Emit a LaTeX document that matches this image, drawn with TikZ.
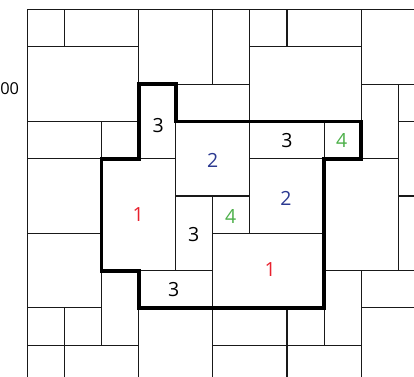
\documentclass[tikz,border=0pt]{standalone}
\usepackage{fontspec}
\setmainfont{Open Sans}
\definecolor{numred}{RGB}{232,33,46}
\definecolor{numblue}{RGB}{43,57,144}
\definecolor{numgreen}{RGB}{77,176,74}
\begin{document}
\begin{tikzpicture}[x=37.1pt,y=-37.3pt,
  cell/.style={draw=black!90,line width=1.1pt},
  region/.style={draw=black,line width=3.8pt,line join=miter},
  num/.style={font=\fontsize{19.5}{22}\selectfont,inner sep=0pt},
  sidelabel/.style={font=\fontsize{16.4}{18}\selectfont,inner sep=0pt,anchor=east}]
\useasboundingbox (-0.7358,-0.2547) rectangle (10.423,9.826);
\clip (-0.7358,-0.2547) rectangle (10.423,9.826);
% thin cells
\foreach \a/\b/\c/\d in {
  0/0/1/1, 1/0/3/1, 0/1/3/3, 0/3/2/4, 2/3/3/4, 0/4/2/6, 0/6/2/8,
  0/8/1/9, 1/8/2/9, 2/7/3/9, 0/9/1/10, 1/9/3/10,
  3/0/5/2, 5/0/6/2, 4/2/6/3, 6/0/7/1, 7/0/9/1, 6/1/9/3, 9/0/11/2,
  9/2/10/4, 10/2/11/3, 10/3/11/5, 10/5/11/7,
  8/4/10/7, 9/7/11/8, 9/8/11/10, 8/7/9/9,
  3/8/5/10, 5/8/7/9, 7/8/8/9, 5/9/7/10, 7/9/9/10,
  3/2/4/4, 4/3/6/5, 6/3/8/4, 8/3/9/4, 6/4/8/6, 2/4/4/7,
  4/5/5/7, 5/5/6/6, 5/6/8/8, 3/7/5/8}
  \draw[cell] (\a,\b) rectangle (\c,\d);
% thick region outline
\draw[region] (3,2) -- (4,2) -- (4,3) -- (9,3) -- (9,4) -- (8,4) -- (8,8)
  -- (3,8) -- (3,7) -- (2,7) -- (2,4) -- (3,4) -- cycle;
% numbers
\node[num] (t1) at (3.531,3.118) {3};
\node[num,text=numblue] (b1) at (5.0,4.043) {2};
\node[num] (t2) at (7.0,3.512) {3};
\node[num,text=numgreen] (g1) at (8.477,3.5) {4};
\node[num,text=numblue] (b2) at (6.97,5.054) {2};
\node[num,text=numred] (r1) at (2.99,5.50) {1};
\node[num] (t3) at (4.485,6.03) {3};
\node[num,text=numgreen] (g2) at (5.485,5.544) {4};
\node[num,text=numred] (r2) at (6.55,6.976) {1};
\node[num] (t4) at (3.949,7.515) {3};
\node[sidelabel] (side) at (-0.2156,2.11) {00};
\end{tikzpicture}
\end{document}
